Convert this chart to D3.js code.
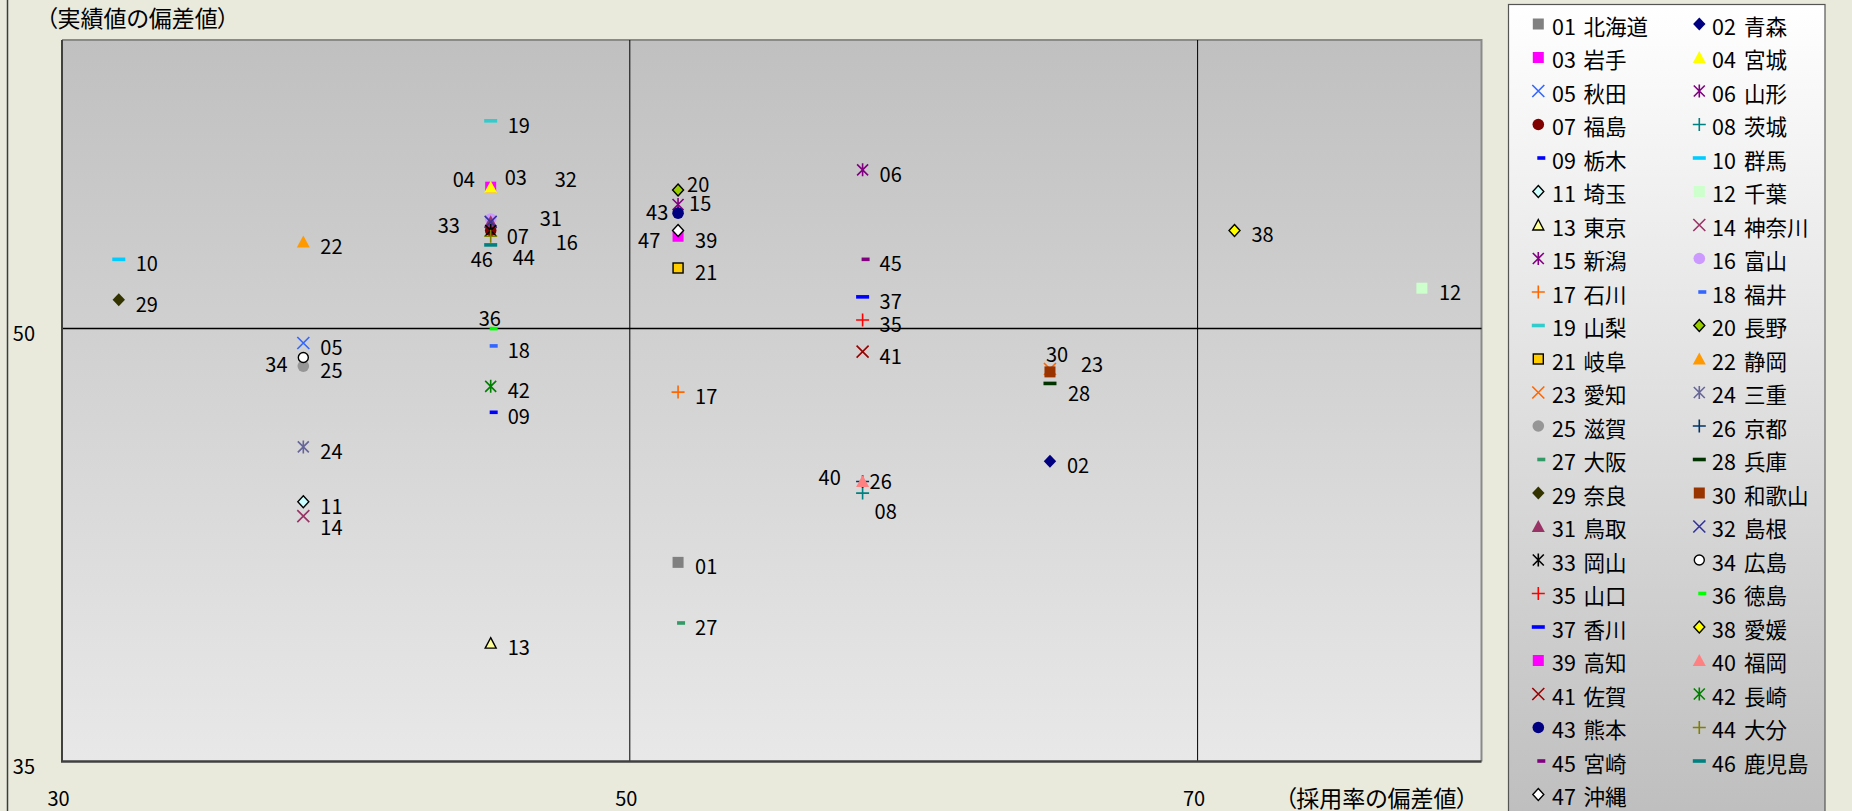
<!DOCTYPE html>
<html><head><meta charset="utf-8">
<script src="https://cdn.jsdelivr.net/npm/d3@7/dist/d3.min.js"></script>
<style>
html,body{margin:0;padding:0;background:#e9eadc;}
svg{display:block;}
text{font-family:"Noto Sans CJK JP","Noto Sans",sans-serif;fill:#000;}
</style></head><body>
<svg id="chart" width="1852" height="811"></svg>
<script>
// ---------------- data ----------------
const codes = ["01","02","03","04","05","06","07","08","09","10","11","12","13","14","15","16","17","18","19","20","21","22","23","24","25","26","27","28","29","30","31","32","33","34","35","36","37","38","39","40","41","42","43","44","45","46","47"];
const names = ["北海道","青森","岩手","宮城","秋田","山形","福島","茨城","栃木","群馬","埼玉","千葉","東京","神奈川","新潟","富山","石川","福井","山梨","長野","岐阜","静岡","愛知","三重","滋賀","京都","大阪","兵庫","奈良","和歌山","鳥取","島根","岡山","広島","山口","徳島","香川","愛媛","高知","福岡","佐賀","長崎","熊本","大分","宮崎","鹿児島","沖縄"];
// 採用率の偏差値
const xValues = [51.7,64.8,45.1,45.1,38.5,58.2,45.1,58.2,45.1,32.0,38.5,77.9,45.1,38.5,51.7,45.1,51.7,45.1,45.1,51.7,51.7,38.5,64.8,38.5,38.5,58.2,51.7,64.8,32.0,64.8,45.1,45.1,45.1,38.5,58.2,45.1,58.2,71.3,51.7,58.2,58.2,45.1,51.7,45.1,58.2,45.1,51.7];
// 実績値の偏差値
const yValues = [41.9,45.4,54.9,54.9,49.5,55.5,53.4,44.3,47.1,52.4,44.0,51.4,39.1,43.5,54.3,53.8,47.8,49.4,57.2,54.8,52.1,53.0,48.6,45.9,48.7,44.7,39.8,48.1,51.0,48.5,53.7,53.7,53.4,49.0,50.3,50.0,51.1,53.4,53.2,44.7,49.2,48.0,54.0,53.2,52.4,52.9,53.4];
const xDomain = [30, 80];
const yDomain = [35, 60];
const xTicks = [30, 50, 70];
const yTicks = [35, 50];
const xTitle = "（採用率の偏差値）";
const yTitle = "（実績値の偏差値）";

// ---------------- styles ----------------
const shapes = ["square","diamond","square","triangle","x","star","circle","plus","shortdash","dash",
 "diamond","square","triangle","x","star","circle","plus","shortdash","dash",
 "diamond","square","triangle","x","star","circle","plus","shortdash","dash",
 "diamond","square","triangle","x","star","circle","plus","shortdash","dash",
 "diamond","square","triangle","x","star","circle","plus","shortdash","dash","diamond"];
const colors = ["#808080","#000080","#FF00FF","#FFFF00","#3366FF","#800080","#800000","#008080","#0000FF","#00CCFF",
 "#CCFFFF","#CCFFCC","#FFFF99","#993366","#800080","#CC99FF","#FF6600","#3366FF","#33CCCC",
 "#99CC00","#FFCC00","#FF9900","#FF6600","#666699","#969696","#003366","#339966","#003300",
 "#333300","#993300","#993366","#333399","#000000","#FFFFFF","#FF0000","#00FF00","#0000FF",
 "#FFFF00","#FF00FF","#FF8080","#990000","#008000","#000080","#808000","#800080","#008080","#FFFFFF"];
const outlined = new Set(["11","13","20","21","34","38","47"]);
// label placement (pixel offsets of label's left edge / vertical centre from the point)
const defaultLabelOffset = [18, 3.5];
const labelOffsets = {
  "03":[15,-11], "04":[-37,-9], "32":[65,-43], "33":[-52,-6], "31":[50,-4], "07":[17,5],
  "16":[66,23], "46":[-19,14], "44":[23,20], "36":[-11,-11], "34":[-37,6], "14":[18,10],
  "43":[-31,-2], "47":[-39,9], "20":[10,-7], "15":[12,-2], "30":[-3,-18], "23":[32,-6],
  "28":[19,9], "40":[-43,-5], "26":[8,-1], "08":[13,17]
};

// ---------------- layout ----------------
const svg = d3.select("#chart");
const plot = {left:62, right:1481.5, top:40, bottom:761.5};
const x = d3.scaleLinear().domain(xDomain).range([plot.left, plot.right]);
const y = d3.scaleLinear().domain(yDomain).range([plot.bottom, plot.top]);

const defs = svg.append("defs");
const pg = defs.append("linearGradient").attr("id","plotBg").attr("x1",0).attr("y1",0).attr("x2",0).attr("y2",1);
pg.append("stop").attr("offset","0%").attr("stop-color","#c0c0c0");
pg.append("stop").attr("offset","100%").attr("stop-color","#e8e8e8");
const lg = defs.append("linearGradient").attr("id","legBg").attr("x1",0).attr("y1",0).attr("x2",0).attr("y2",1);
lg.append("stop").attr("offset","0%").attr("stop-color","#ffffff");
lg.append("stop").attr("offset","100%").attr("stop-color","#bdbdbd");

// outer left border
svg.append("line").attr("x1",7.5).attr("x2",7.5).attr("y1",0).attr("y2",811)
  .attr("stroke","#3c3c3c").attr("stroke-width",1.5);

// plot background
svg.append("rect").attr("x",plot.left).attr("y",plot.top)
  .attr("width",plot.right-plot.left).attr("height",plot.bottom-plot.top)
  .attr("fill","url(#plotBg)");
// top & right border
svg.append("path").attr("d",`M${plot.left},${plot.top}H${plot.right}V${plot.bottom}`)
  .attr("fill","none").attr("stroke","#8a8a8a").attr("stroke-width",2);

// gridlines
svg.append("g").selectAll("line").data(xTicks.filter(v=>v>xDomain[0])).join("line")
  .attr("x1",d=>x(d)).attr("x2",d=>x(d)).attr("y1",plot.top).attr("y2",plot.bottom)
  .attr("stroke","#000").attr("stroke-width",1);
svg.append("g").selectAll("line").data(yTicks.filter(v=>v>yDomain[0])).join("line")
  .attr("x1",plot.left).attr("x2",plot.right).attr("y1",d=>y(d)).attr("y2",d=>y(d))
  .attr("stroke","#000").attr("stroke-width",1.5);

// axes lines
svg.append("line").attr("x1",plot.left).attr("x2",plot.left).attr("y1",plot.top).attr("y2",plot.bottom)
  .attr("stroke","#404040").attr("stroke-width",2);
svg.append("line").attr("x1",plot.left-1).attr("x2",plot.right).attr("y1",plot.bottom).attr("y2",plot.bottom)
  .attr("stroke","#404040").attr("stroke-width",2.5);

// axis tick labels
const xAxis = svg.append("g").attr("transform",`translate(0,${plot.bottom})`)
  .call(d3.axisBottom(x).tickValues(xTicks).tickSize(0).tickPadding(0).tickFormat(d3.format("d")));
xAxis.select(".domain").remove();
xAxis.selectAll("text").attr("font-size",20).attr("font-family",'"Noto Sans CJK JP",sans-serif')
  .attr("fill","#000").attr("dy",null).attr("y",36).attr("dx",-4).attr("dominant-baseline","central");
const yAxis = svg.append("g").attr("transform",`translate(${plot.left},0)`)
  .call(d3.axisLeft(y).tickValues(yTicks).tickSize(0).tickPadding(27).tickFormat(d3.format("d")));
yAxis.select(".domain").remove();
yAxis.selectAll("text").attr("font-size",20).attr("font-family",'"Noto Sans CJK JP",sans-serif')
  .attr("fill","#000").attr("dy",null).attr("y",3).attr("dominant-baseline","central");

// axis titles
svg.append("text").text(yTitle).attr("x",46).attr("y",17).attr("font-size",23)
  .attr("dominant-baseline","central").style("font-feature-settings","'palt'");
svg.append("text").text(xTitle).attr("x",1468).attr("y",797).attr("font-size",23)
  .attr("text-anchor","end").attr("dominant-baseline","central").style("font-feature-settings","'palt'");

// marker drawer
function drawMarker(g, shape, color, outline){
  const sw = 1.6;
  const st = outline ? "#000" : "none";
  switch(shape){
    case "square":
      if(outline) g.append("rect").attr("x",-5).attr("y",-5).attr("width",10).attr("height",10)
        .attr("fill",color).attr("stroke","#000").attr("stroke-width",1.4);
      else g.append("rect").attr("x",-5.5).attr("y",-5.5).attr("width",11).attr("height",11).attr("fill",color);
      break;
    case "diamond":
      g.append("path").attr("d", outline ? "M0,-6L5.5,0L0,6L-5.5,0Z" : "M0,-6.5L6.2,0L0,6.5L-6.2,0Z")
        .attr("fill",color).attr("stroke",st).attr("stroke-width",1.4);
      break;
    case "triangle":
      g.append("path").attr("d", outline ? "M0,-5.5L5.5,5L-5.5,5Z" : "M0,-6.5L6.5,5.5L-6.5,5.5Z")
        .attr("fill",color).attr("stroke",st).attr("stroke-width",1.4);
      break;
    case "circle":
      g.append("circle").attr("r", outline ? 5 : 5.8).attr("fill",color)
        .attr("stroke",st).attr("stroke-width",1.4);
      break;
    case "x":
      g.append("path").attr("d","M-6,-6L6,6M6,-6L-6,6").attr("stroke",color).attr("stroke-width",sw).attr("fill","none");
      break;
    case "star":
      g.append("path").attr("d","M-5.5,-5.5L5.5,5.5M5.5,-5.5L-5.5,5.5M0,-6.5V6.5").attr("stroke",color).attr("stroke-width",sw).attr("fill","none");
      break;
    case "plus":
      g.append("path").attr("d","M-6.5,0H6.5M0,-6.5V6.5").attr("stroke",color).attr("stroke-width",sw).attr("fill","none");
      break;
    case "dash":
      g.append("rect").attr("x",-6.5).attr("y",-1.8).attr("width",13).attr("height",3.6).attr("fill",color);
      break;
    case "shortdash":
      g.append("rect").attr("x",-1).attr("y",-1.8).attr("width",8).attr("height",3.6).attr("fill",color);
      break;
  }
}

// points
const pts = svg.append("g");
codes.forEach((c,i)=>{
  const g = pts.append("g").attr("transform",`translate(${x(xValues[i])},${y(yValues[i])})`);
  drawMarker(g, shapes[i], colors[i], outlined.has(c));
});
// labels
const labs = svg.append("g");
codes.forEach((c,i)=>{
  const o = labelOffsets[c] || defaultLabelOffset;
  labs.append("text").text(c).attr("x",x(xValues[i])+o[0]-1).attr("y",y(yValues[i])+o[1])
    .attr("font-size",20).attr("dominant-baseline","central");
});

// legend
const leg = svg.append("g");
leg.append("rect").attr("x",1508.5).attr("y",4.5).attr("width",316.5).attr("height",830)
  .attr("fill","url(#legBg)").attr("stroke","#555").attr("stroke-width",1.2);
const colMarkX = [1538.3, 1699.3];
const colNumX = [1552, 1712];
const colNameX = [1583.5, 1744];
codes.forEach((c,i)=>{
  const col = i % 2, row = Math.floor(i/2);
  const cy = 24 + row*33.5;
  const g = leg.append("g").attr("transform",`translate(${colMarkX[col]},${cy})`);
  drawMarker(g, shapes[i], colors[i], outlined.has(c));
  leg.append("text").text(c).attr("x",colNumX[col]).attr("y",cy+1).attr("font-size",21.5).attr("dominant-baseline","central");
  leg.append("text").text(names[i]).attr("x",colNameX[col]).attr("y",cy+1).attr("font-size",21.5).attr("dominant-baseline","central");
});
</script>
</body></html>
